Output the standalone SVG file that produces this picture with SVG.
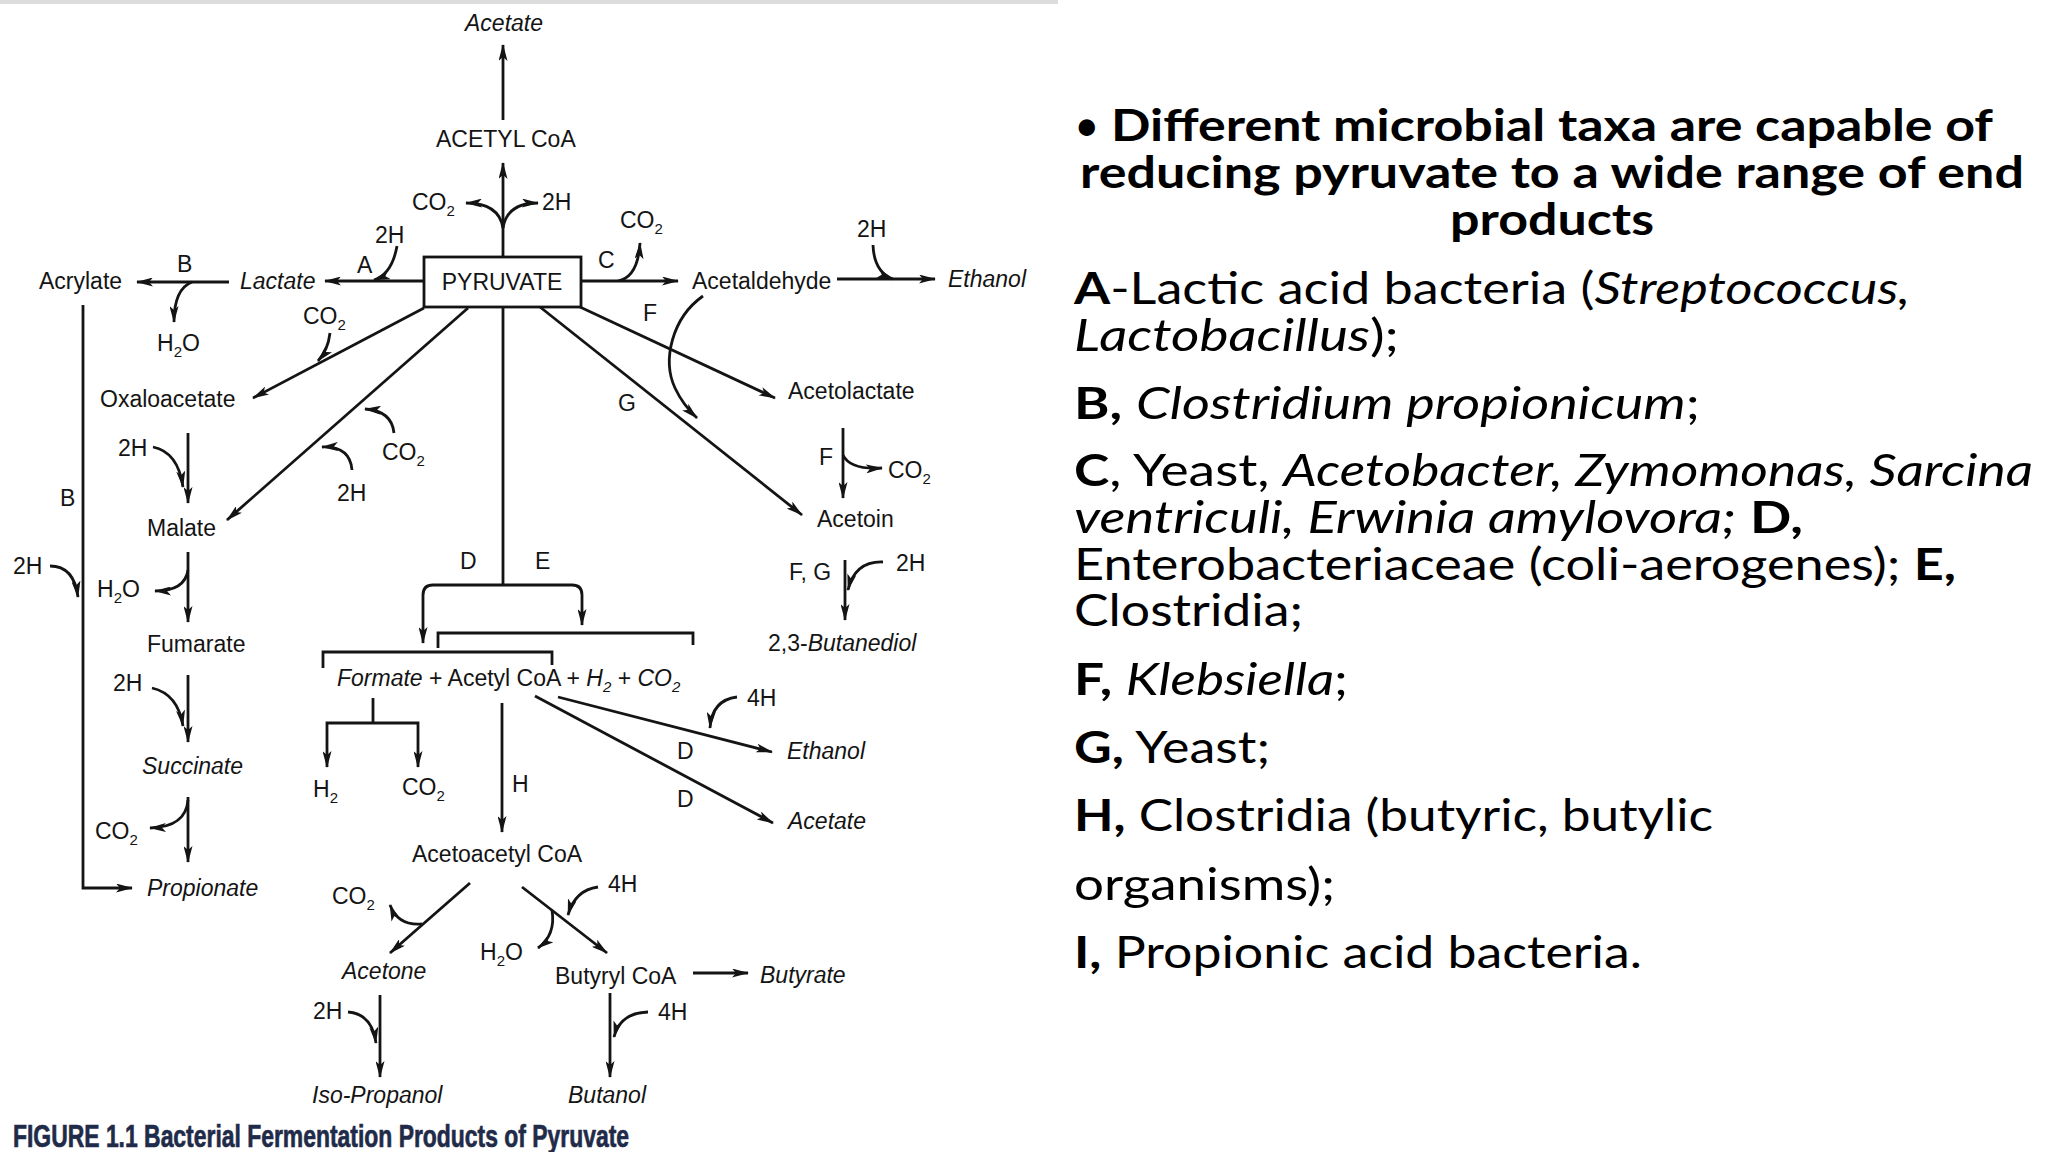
<svg xmlns="http://www.w3.org/2000/svg" width="2048" height="1152" viewBox="0 0 2048 1152">
<style>
.t{font-family:"Liberation Sans",Arial,sans-serif;font-size:23px;fill:#141414}
.i{font-style:italic}
.s{font-size:15px}
.ln{stroke:#141414;stroke-width:2.8;fill:none}
.a{marker-end:url(#ah)}
.r{font-family:Lato,"Open Sans",sans-serif;font-size:44px;fill:#000}
.b{font-weight:bold}
.cap{font-family:"Liberation Sans Narrow","Liberation Sans",sans-serif;font-weight:bold;font-size:32px;fill:#1f2b48;stroke:#1f2b48;stroke-width:0.7}
</style>
<defs>
<marker id="ah" viewBox="0 0 17 9" refX="16" refY="4.5" markerWidth="17" markerHeight="9" markerUnits="userSpaceOnUse" orient="auto"><path d="M0 0 L17 4.5 L0 9 L4 4.5 z" fill="#141414"/></marker>
</defs>
<rect x="0" y="0" width="1058" height="4" fill="#dcdcdc"/>
<g id="connectors">
<path class="ln a" d="M503 120 V45"/>
<path class="ln a" d="M503 256 V163"/>
<path class="ln a" d="M503 228 Q499 203 466 203"/>
<path class="ln a" d="M503 228 Q507 203 538 203"/>
<path class="ln a" d="M424 281 H325"/>
<path class="ln a" d="M397 246 Q392 274 374 280"/>
<path class="ln a" d="M229 282 H137"/>
<path class="ln a" d="M192 282 Q174 289 174 322"/>
<path class="ln a" d="M581 281 H678"/>
<path class="ln a" d="M618 281 Q638 277 640 243"/>
<path class="ln a" d="M837 279 H935"/>
<path class="ln a" d="M873 245 Q874 272 893 279"/>
<path class="ln a" d="M424 308 L253 398"/>
<path class="ln a" d="M330 333 Q328 350 318 361"/>
<path class="ln a" d="M468 308 L227 520"/>
<path class="ln a" d="M394 433 Q392 411 365 409"/>
<path class="ln a" d="M352 470 Q350 446 322 447"/>
<path class="ln a" d="M188 433 V503"/>
<path class="ln a" d="M153 447 Q178 452 183 487"/>
<path class="ln a" d="M188 552 V622"/>
<path class="ln a" d="M188 570 Q185 591 155 591"/>
<path class="ln a" d="M188 675 V742"/>
<path class="ln a" d="M152 688 Q178 694 183 726"/>
<path class="ln a" d="M188 797 V862"/>
<path class="ln a" d="M188 800 Q186 827 150 828"/>
<path class="ln a" d="M83 305 V888 H132"/>
<path class="ln a" d="M50 566 Q74 566 78 597"/>
<path class="ln a" d="M580 307 L775 398"/>
<path class="ln a" d="M540 307 L802 515"/>
<path class="ln a" d="M703 296 C672 318 662 360 675 388 Q683 405 697 418"/>
<path class="ln a" d="M843 428 V498"/>
<path class="ln a" d="M843 455 Q850 470 882 468"/>
<path class="ln a" d="M845 560 V620"/>
<path class="ln a" d="M883 562 Q855 561 848 590"/>
<path class="ln" d="M503 308 V585"/>
<path class="ln a" d="M503 585 H433 Q423 585 423 595 V643"/>
<path class="ln a" d="M503 585 H572 Q582 585 582 595 V625"/>
<path class="ln" d="M438 648 V633 H693 V645"/>
<path class="ln" d="M323 668 V652 H552 V665"/>
<path class="ln" d="M373 698 V723"/>
<path class="ln a" d="M373 723 H327 V767"/>
<path class="ln a" d="M373 723 H418 V767"/>
<path class="ln a" d="M502 703 V832"/>
<path class="ln a" d="M558 697 L772 752"/>
<path class="ln a" d="M535 696 L773 823"/>
<path class="ln a" d="M737 697 Q712 700 710 728"/>
<path class="ln a" d="M470 883 L390 953"/>
<path class="ln a" d="M422 924 Q398 926 390 905"/>
<path class="ln a" d="M522 887 L607 953"/>
<path class="ln a" d="M598 887 Q575 890 568 915"/>
<path class="ln a" d="M552 910 Q556 935 538 948"/>
<path class="ln a" d="M693 973 H748"/>
<path class="ln a" d="M380 995 V1077"/>
<path class="ln a" d="M348 1012 Q372 1014 376 1043"/>
<path class="ln a" d="M610 993 V1077"/>
<path class="ln a" d="M648 1012 Q620 1013 614 1037"/>
</g>
<g id="n-acetate-top"><text class="t i" x="465" y="31">Acetate</text></g>
<g id="n-acetylcoa"><text class="t" x="436" y="147">ACETYL CoA</text></g>
<g id="l-co2-a"><text class="t" x="412" y="210">CO<tspan class="s" dy="6">2</tspan></text></g>
<g id="l-2h-a"><text class="t" x="542" y="210">2H</text></g>
<g id="l-2h-b"><text class="t" x="375" y="243">2H</text></g>
<g id="l-A"><text class="t" x="357" y="273">A</text></g>
<g id="l-co2-b"><text class="t" x="620" y="228">CO<tspan class="s" dy="6">2</tspan></text></g>
<g id="l-C"><text class="t" x="598" y="268">C</text></g>
<g id="n-pyruvate"><rect x="424" y="257" width="157" height="50" fill="#fff" stroke="#141414" stroke-width="2.8"/><text class="t" x="502" y="290" text-anchor="middle">PYRUVATE</text></g>
<g id="n-acrylate"><text class="t" x="39" y="289">Acrylate</text></g>
<g id="l-B1"><text class="t" x="177" y="272">B</text></g>
<g id="n-lactate"><text class="t i" x="240" y="289">Lactate</text></g>
<g id="n-acetaldehyde"><text class="t" x="692" y="289">Acetaldehyde</text></g>
<g id="l-2h-c"><text class="t" x="857" y="237">2H</text></g>
<g id="n-ethanol-top"><text class="t i" x="948" y="287">Ethanol</text></g>
<g id="l-h2o-a"><text class="t" x="157" y="351">H<tspan class="s" dy="6">2</tspan><tspan dy="-6">O</tspan></text></g>
<g id="l-co2-c"><text class="t" x="303" y="324">CO<tspan class="s" dy="6">2</tspan></text></g>
<g id="l-F1"><text class="t" x="643" y="321">F</text></g>
<g id="n-oxaloacetate"><text class="t" x="100" y="407">Oxaloacetate</text></g>
<g id="n-acetolactate"><text class="t" x="788" y="399">Acetolactate</text></g>
<g id="l-G"><text class="t" x="618" y="411">G</text></g>
<g id="l-2h-d"><text class="t" x="118" y="456">2H</text></g>
<g id="l-co2-d"><text class="t" x="382" y="460">CO<tspan class="s" dy="6">2</tspan></text></g>
<g id="l-2h-e"><text class="t" x="337" y="501">2H</text></g>
<g id="l-B2"><text class="t" x="60" y="506">B</text></g>
<g id="n-malate"><text class="t" x="147" y="536">Malate</text></g>
<g id="l-F2"><text class="t" x="819" y="465">F</text></g>
<g id="l-co2-e"><text class="t" x="888" y="478">CO<tspan class="s" dy="6">2</tspan></text></g>
<g id="n-acetoin"><text class="t" x="817" y="527">Acetoin</text></g>
<g id="l-D1"><text class="t" x="460" y="569">D</text></g>
<g id="l-E"><text class="t" x="535" y="569">E</text></g>
<g id="l-2h-f"><text class="t" x="13" y="574">2H</text></g>
<g id="l-h2o-b"><text class="t" x="97" y="597">H<tspan class="s" dy="6">2</tspan><tspan dy="-6">O</tspan></text></g>
<g id="l-FG"><text class="t" x="789" y="580">F, G</text></g>
<g id="l-2h-g"><text class="t" x="896" y="571">2H</text></g>
<g id="n-fumarate"><text class="t" x="147" y="652">Fumarate</text></g>
<g id="n-butanediol"><text class="t" x="768" y="651">2,3-<tspan class="i">Butanediol</tspan></text></g>
<g id="n-formate"><text class="t" x="337" y="686"><tspan class="i">Formate</tspan> + Acetyl CoA + <tspan class="i">H</tspan><tspan class="i s" dy="6">2</tspan><tspan dy="-6"> + </tspan><tspan class="i">CO</tspan><tspan class="i s" dy="6">2</tspan></text></g>
<g id="l-2h-h"><text class="t" x="113" y="691">2H</text></g>
<g id="l-4h-a"><text class="t" x="747" y="706">4H</text></g>
<g id="n-succinate"><text class="t i" x="142" y="774">Succinate</text></g>
<g id="l-D2"><text class="t" x="677" y="759">D</text></g>
<g id="l-D3"><text class="t" x="677" y="807">D</text></g>
<g id="n-ethanol"><text class="t i" x="787" y="759">Ethanol</text></g>
<g id="n-h2"><text class="t" x="313" y="797">H<tspan class="s" dy="6">2</tspan></text></g>
<g id="n-co2"><text class="t" x="402" y="795">CO<tspan class="s" dy="6">2</tspan></text></g>
<g id="l-H"><text class="t" x="512" y="792">H</text></g>
<g id="l-co2-f"><text class="t" x="95" y="839">CO<tspan class="s" dy="6">2</tspan></text></g>
<g id="n-acetate"><text class="t i" x="788" y="829">Acetate</text></g>
<g id="n-acetoacetyl"><text class="t" x="412" y="862">Acetoacetyl CoA</text></g>
<g id="n-propionate"><text class="t i" x="147" y="896">Propionate</text></g>
<g id="l-co2-g"><text class="t" x="332" y="904">CO<tspan class="s" dy="6">2</tspan></text></g>
<g id="l-4h-b"><text class="t" x="608" y="892">4H</text></g>
<g id="l-h2o-c"><text class="t" x="480" y="960">H<tspan class="s" dy="6">2</tspan><tspan dy="-6">O</tspan></text></g>
<g id="n-acetone"><text class="t i" x="342" y="979">Acetone</text></g>
<g id="n-butyrylcoa"><text class="t" x="555" y="984">Butyryl CoA</text></g>
<g id="n-butyrate"><text class="t i" x="760" y="983">Butyrate</text></g>
<g id="l-2h-i"><text class="t" x="313" y="1019">2H</text></g>
<g id="l-4h-c"><text class="t" x="658" y="1020">4H</text></g>
<g id="n-isopropanol"><text class="t i" x="312" y="1103">Iso-Propanol</text></g>
<g id="n-butanol"><text class="t i" x="568" y="1103">Butanol</text></g>
<g id="caption"><text class="cap" x="13" y="1147" textLength="616" lengthAdjust="spacingAndGlyphs">FIGURE 1.1  Bacterial Fermentation Products of Pyruvate</text></g>
<g id="notes">
<text class="r" x="1074" y="141">•</text>
<text class="r b" x="1552" y="141" text-anchor="middle" textLength="882" lengthAdjust="spacingAndGlyphs">Different microbial taxa are capable of</text>
<text class="r b" x="1552" y="188" text-anchor="middle" textLength="944" lengthAdjust="spacingAndGlyphs">reducing pyruvate to a wide range of end</text>
<text class="r b" x="1552" y="235" text-anchor="middle" textLength="204" lengthAdjust="spacingAndGlyphs">products</text>
<text class="r" x="1074" y="304" textLength="836" lengthAdjust="spacingAndGlyphs"><tspan class="b">A</tspan>-Lactic acid bacteria (<tspan class="i">Streptococcus,</tspan></text>
<text class="r" x="1074" y="351" textLength="325" lengthAdjust="spacingAndGlyphs"><tspan class="i">Lactobacillus</tspan>);</text>
<text class="r" x="1074" y="419" textLength="626" lengthAdjust="spacingAndGlyphs"><tspan class="b">B,</tspan> <tspan class="i">Clostridium propionicum</tspan>;</text>
<text class="r" x="1074" y="486" textLength="959" lengthAdjust="spacingAndGlyphs"><tspan class="b">C</tspan>, Yeast, <tspan class="i">Acetobacter, Zymomonas, Sarcina</tspan></text>
<text class="r" x="1074" y="533" textLength="729" lengthAdjust="spacingAndGlyphs"><tspan class="i">ventriculi, Erwinia amylovora;</tspan> <tspan class="b">D,</tspan></text>
<text class="r" x="1074" y="580" textLength="882" lengthAdjust="spacingAndGlyphs">Enterobacteriaceae (coli-aerogenes); <tspan class="b">E,</tspan></text>
<text class="r" x="1074" y="626" textLength="229" lengthAdjust="spacingAndGlyphs">Clostridia;</text>
<text class="r" x="1074" y="695" textLength="274" lengthAdjust="spacingAndGlyphs"><tspan class="b">F,</tspan> <tspan class="i">Klebsiella</tspan>;</text>
<text class="r" x="1074" y="763" textLength="196" lengthAdjust="spacingAndGlyphs"><tspan class="b">G,</tspan> Yeast;</text>
<text class="r" x="1074" y="831" textLength="639" lengthAdjust="spacingAndGlyphs"><tspan class="b">H,</tspan> Clostridia (butyric, butylic</text>
<text class="r" x="1074" y="900" textLength="261" lengthAdjust="spacingAndGlyphs">organisms);</text>
<text class="r" x="1074" y="968" textLength="568" lengthAdjust="spacingAndGlyphs"><tspan class="b">I,</tspan> Propionic acid bacteria.</text>
</g>
</svg>
